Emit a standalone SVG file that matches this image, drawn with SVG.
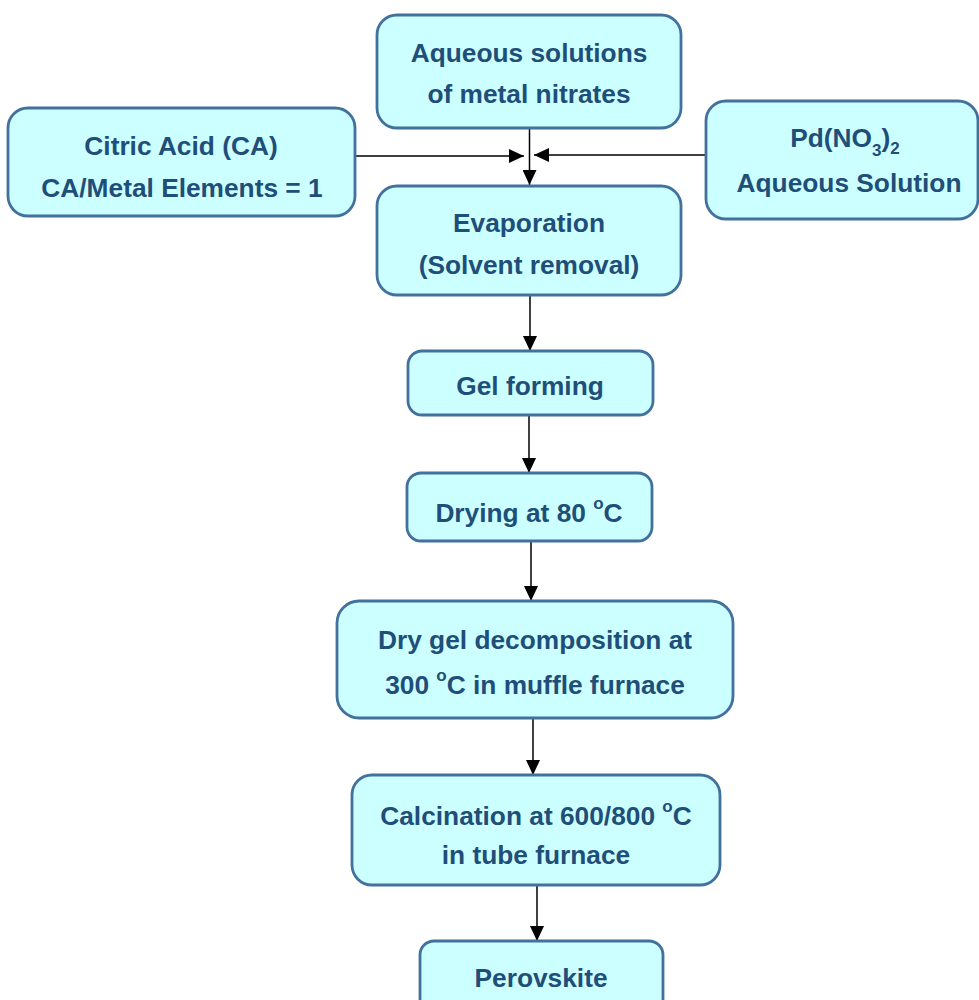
<svg xmlns="http://www.w3.org/2000/svg" width="979" height="1000" viewBox="0 0 979 1000">
<style>
.box{fill:#CCFFFF;stroke:#41719C;stroke-width:2.8}
.t{font-family:"Liberation Sans",Arial,sans-serif;font-weight:bold;font-size:26.3px;fill:#1F4E79;text-anchor:middle}
.c{stroke:#000;stroke-width:1.5;fill:none}
</style>
<defs>
<marker id="ah" markerUnits="userSpaceOnUse" markerWidth="16" markerHeight="14" refX="15" refY="7" orient="auto">
<path d="M0,0 L15,7 L0,14 Z" fill="#000"/>
</marker>
</defs>
<rect width="979" height="1000" fill="#fff"/>
<g id="connectors">
<line class="c" x1="529.5" y1="128" x2="529.5" y2="185" marker-end="url(#ah)"/>
<line class="c" x1="355" y1="156" x2="524" y2="156" marker-end="url(#ah)"/>
<line class="c" x1="706" y1="155" x2="534" y2="155" marker-end="url(#ah)"/>
<line class="c" x1="530" y1="295" x2="530" y2="351" marker-end="url(#ah)"/>
<line class="c" x1="529" y1="415" x2="529" y2="473" marker-end="url(#ah)"/>
<line class="c" x1="531" y1="541" x2="531" y2="601" marker-end="url(#ah)"/>
<line class="c" x1="533" y1="718" x2="533" y2="775" marker-end="url(#ah)"/>
<line class="c" x1="537" y1="885" x2="537" y2="941" marker-end="url(#ah)"/>
</g>
<g id="aqueous">
<rect class="box" x="377" y="15" width="304" height="113" rx="20"/>
<text class="t" x="529" y="62">Aqueous solutions</text>
<text class="t" x="529" y="103">of metal nitrates</text>
</g>
<g id="citric">
<rect class="box" x="8" y="108" width="347" height="108" rx="20"/>
<text class="t" x="181" y="155">Citric Acid (CA)</text>
<text class="t" x="182" y="197">CA/Metal Elements = 1</text>
</g>
<g id="pd">
<rect class="box" x="706" y="101" width="272" height="118" rx="20"/>
<text class="t" x="845" y="147">Pd(NO<tspan font-size="17" dy="9">3</tspan><tspan dy="-9">)</tspan><tspan font-size="17" dy="7">2</tspan></text>
<text class="t" x="849" y="192">Aqueous Solution</text>
</g>
<g id="evaporation">
<rect class="box" x="377" y="186" width="304" height="109" rx="20"/>
<text class="t" x="529" y="232">Evaporation</text>
<text class="t" x="529" y="274">(Solvent removal)</text>
</g>
<g id="gel">
<rect class="box" x="408" y="351" width="245" height="64" rx="14"/>
<text class="t" x="530" y="395">Gel forming</text>
</g>
<g id="drying">
<rect class="box" x="407" y="473" width="245" height="68" rx="14"/>
<text class="t" x="529" y="522">Drying at 80 <tspan font-size="17" dy="-13">o</tspan><tspan dy="13">C</tspan></text>
</g>
<g id="drygel">
<rect class="box" x="337" y="601" width="396" height="117" rx="22"/>
<text class="t" x="535" y="649">Dry gel decomposition at</text>
<text class="t" x="535" y="694">300 <tspan font-size="17" dy="-13">o</tspan><tspan dy="13">C in muffle furnace</tspan></text>
</g>
<g id="calcination">
<rect class="box" x="352" y="775" width="368" height="110" rx="20"/>
<text class="t" x="536" y="825">Calcination at 600/800 <tspan font-size="17" dy="-13">o</tspan><tspan dy="13">C</tspan></text>
<text class="t" x="536" y="864">in tube furnace</text>
</g>
<g id="perovskite">
<rect class="box" x="420" y="941" width="243" height="80" rx="14"/>
<text class="t" x="541" y="987">Perovskite</text>
</g>
</svg>
